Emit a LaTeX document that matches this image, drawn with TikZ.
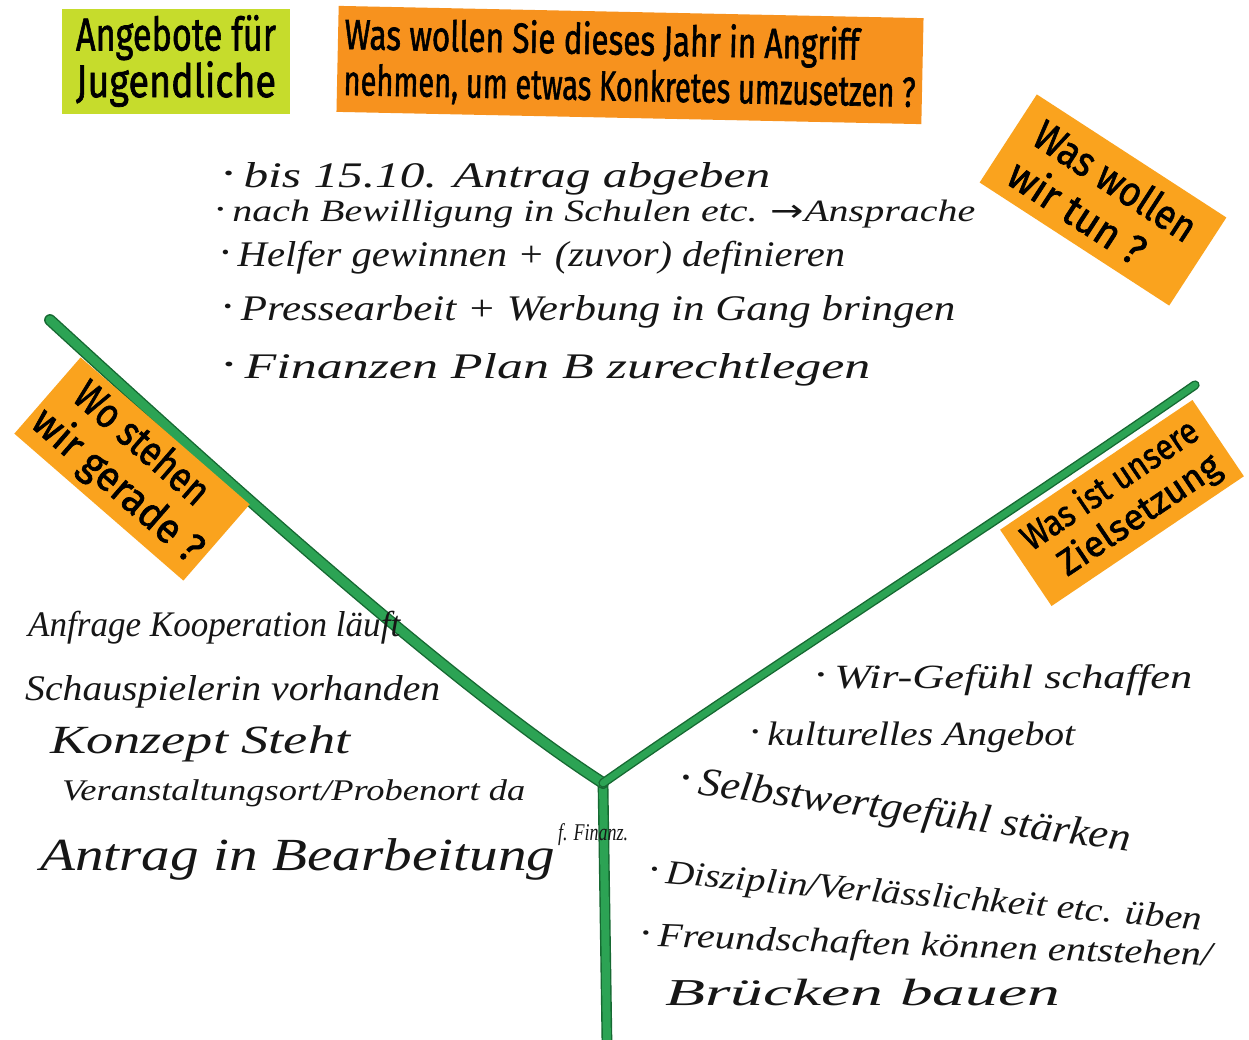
\documentclass[tikz,border=0pt]{standalone}
\usepackage{fontspec}
\usepackage{graphicx}
\setmainfont{Liberation Serif}
\newfontfamily\handfont{Liberation Serif}
\newfontfamily\cardfont{Fira Sans}[FakeBold=1.6]
\newfontfamily\symfont{DejaVu Sans}
\newcommand\fitline[2]{\resizebox{#1pt}{\height}{#2}}
\newcommand\hdot{\raisebox{0.22em}{\scalebox{0.45}{\symfont •}}\,}
\definecolor{cardgreen}{RGB}{198,220,44}
\definecolor{cardorangeA}{RGB}{247,146,30}
\definecolor{cardorangeB}{RGB}{250,163,30}
\definecolor{lineDark}{RGB}{22,105,50}
\definecolor{lineGreen}{RGB}{44,163,84}
\definecolor{ink}{RGB}{22,22,22}
\begin{document}
\begin{tikzpicture}[x=1pt,y=-1pt,
  card/.style={inner sep=0pt, align=left, text=black,
    font=\cardfont\fontsize{40}{44}\selectfont},
  hand/.style={anchor=base west, inner sep=0pt, text=ink,
    font=\handfont\itshape\fontsize{36}{40}\selectfont},
  branch/.style={draw=lineDark, line width=1.4pt, double=lineGreen,
    double distance=#1, line cap=round}]
\useasboundingbox (0,0) rectangle (1249,1039);
\fill[white] (0,0) rectangle (1249,1039);

% ---------- green Y ----------
\coordinate (J) at (603,783);
\coordinate (L) at (50,320);
\coordinate (R) at (1195,385);
\coordinate (B) at (607,1045);
\draw[branch=8pt] (J) -- (B);
\draw[branch=9pt] (L) .. controls (230,485) and (453,686) .. (J);
\draw[branch=6.5pt] (J) .. controls (750,680) and (1000,520) .. (R);

% ---------- sticky notes ----------
\node[card, fill=cardgreen, minimum width=228pt, minimum height=105pt,
  font=\cardfont\fontsize{46}{42}\selectfont] (jug) at (176,61)
  {\fitline{200}{Angebote für}\\\fitline{200}{Jugendliche}};
\node[card, fill=cardorangeA, minimum width=585pt, minimum height=106pt,
  rotate=-1.2, font=\cardfont\fontsize{42}{46}\selectfont] (frage) at (630,65)
  {\fitline{515}{Was wollen Sie dieses Jahr in Angriff}\\\fitline{572}{nehmen, um etwas Konkretes umzusetzen ?}};
\node[card, fill=cardorangeB, minimum width=226pt, minimum height=105pt,
  rotate=-33, font=\cardfont\fontsize{42}{47}\selectfont] (tun) at (1103,200)
  {\fitline{185}{Was wollen}\\\fitline{155}{wir tun ?}};
\node[card, fill=cardorangeB, minimum width=224pt, minimum height=101pt,
  rotate=-41, font=\cardfont\fontsize{42}{47}\selectfont] (wo) at (132,469)
  {\hspace*{14pt}\fitline{165}{Wo stehen}\\\fitline{212}{wir gerade ?}};
\node[card, fill=cardorangeB, minimum width=232pt, minimum height=92pt,
  rotate=34, font=\cardfont\fontsize{36}{41}\selectfont] (ziel) at (1122,503)
  {\fitline{205}{Was ist unsere}\\\hspace*{16pt}\fitline{188}{Zielsetzung}};

% ---------- top list ----------
\node[hand] (t1) at (222,187) {\fitline{548}{\hdot bis 15.10. Antrag abgeben}};
\node[hand, font=\handfont\itshape\fontsize{31}{31}\selectfont] (t2) at (215,221) {\fitline{760}{\hdot nach Bewilligung in Schulen etc. {\upshape\symfont→}Ansprache}};
\node[hand] (t3) at (220,266) {\fitline{625}{\hdot Helfer gewinnen + (zuvor) definieren}};
\node[hand] (t4) at (222,320) {\fitline{733}{\hdot Pressearbeit + Werbung in Gang bringen}};
\node[hand] (t5) at (222,378) {\fitline{648}{\hdot Finanzen Plan B zurechtlegen}};

% ---------- left list ----------
\node[hand] (l1) at (28,636) {\fitline{372}{Anfrage Kooperation läuft}};
\node[hand] (l2) at (25,700) {\fitline{415}{Schauspielerin vorhanden}};
\node[hand, font=\handfont\itshape\fontsize{40}{40}\selectfont] (l3) at (50,753) {\fitline{300}{Konzept Steht}};
\node[hand, font=\handfont\itshape\fontsize{30}{30}\selectfont] (l4) at (62,800) {\fitline{463}{Veranstaltungsort/Probenort da}};
\node[hand, font=\handfont\itshape\fontsize{46}{46}\selectfont] (l5) at (40,870) {\fitline{515}{Antrag in Bearbeitung}};
\node[hand, font=\handfont\itshape\fontsize{24}{24}\selectfont] (l6) at (558,840) {\fitline{70}{f. Finanz.}};

% ---------- right list ----------
\node[hand, font=\handfont\itshape\fontsize{34}{34}\selectfont] (r1) at (815,688) {\fitline{377}{\hdot Wir-Gefühl schaffen}};
\node[hand, font=\handfont\itshape\fontsize{34}{34}\selectfont] (r2) at (750,745) {\fitline{325}{\hdot kulturelles Angebot}};
\node[hand, font=\handfont\itshape\fontsize{40}{40}\selectfont, rotate=-7.5] (r3) at (678,792) {\fitline{455}{\hdot Selbstwertgefühl stärken}};
\node[hand, font=\handfont\itshape\fontsize{34}{34}\selectfont, rotate=-5] (r4) at (648,882) {\fitline{555}{\hdot Disziplin/Verlässlichkeit etc. üben}};
\node[hand, font=\handfont\itshape\fontsize{34}{34}\selectfont, rotate=-2] (r5) at (640,946) {\fitline{572}{\hdot Freundschaften können entstehen/}};
\node[hand, font=\handfont\itshape\fontsize{38}{38}\selectfont] (r6) at (665,1005) {\fitline{395}{Brücken bauen}};
\end{tikzpicture}
\end{document}
